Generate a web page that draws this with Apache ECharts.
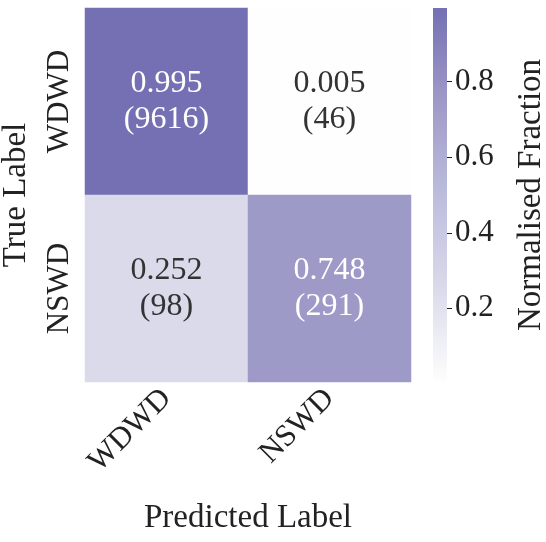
<!DOCTYPE html>
<html><head><meta charset="utf-8">
<script src="https://cdn.jsdelivr.net/npm/echarts@6/dist/echarts.min.js"></script>
<style>html,body{margin:0;background:#fff}#c{width:546px;height:542px}</style>
</head><body><div id="c"></div>
<script>
const predLabels = ['WDWD', 'NSWD']
const trueLabels = ['NSWD', 'WDWD'] // bottom to top
// [predIdx, trueIdx, fraction, count]
const cells = [
  [0, 1, 0.995, 9616],
  [1, 1, 0.005, 46],
  [0, 0, 0.252, 98],
  [1, 0, 0.748, 291]
]
const cbTicks = [0.2, 0.4, 0.6, 0.8]
const vMin = 0.005, vMax = 0.995
const palette = ['#fefefe', '#dadaeb', '#bcbddc', '#9e9ac8', '#7570b3']
const font = 'Liberation Serif'

const chart = echarts.init(document.getElementById('c'))
chart.setOption({
  animation: false,
  textStyle: {fontFamily: font},
  grid: [
    {left: 85, top: 8, width: 326, height: 374, outerBoundsMode: 'none'},
    {left: 433, top: 8, width: 14, height: 374, outerBoundsMode: 'none'}
  ],
  xAxis: [
    {type: 'category', data: predLabels, gridIndex: 0,
      axisLine: {show: false}, splitLine: {show: false},
      axisTick: {alignWithLabel: true, length: 5, lineStyle: {color: '#222'}},
      axisLabel: {rotate: 45, fontSize: 31, color: '#222', fontFamily: font, margin: 12},
      name: 'Predicted Label', nameLocation: 'middle', nameGap: 120,
      nameTextStyle: {fontSize: 33, color: '#222', fontFamily: font}},
    {type: 'category', data: [''], gridIndex: 1, show: false}
  ],
  yAxis: [
    {type: 'category', data: trueLabels, gridIndex: 0,
      axisLine: {show: false}, splitLine: {show: false},
      axisTick: {alignWithLabel: true, length: 5, lineStyle: {color: '#222'}},
      axisLabel: {rotate: 90, fontSize: 31, color: '#222', fontFamily: font, margin: 10},
      name: 'True Label', nameLocation: 'middle', nameGap: 52,
      nameTextStyle: {fontSize: 33, color: '#222', fontFamily: font}},
    {type: 'value', gridIndex: 1, min: vMin, max: vMax, position: 'right',
      axisLine: {show: false}, splitLine: {show: false},
      axisTick: {show: true, customValues: cbTicks, length: 5, lineStyle: {color: '#222'}},
      axisLabel: {customValues: cbTicks, fontSize: 31, color: '#222', fontFamily: font, margin: 8},
      name: 'Normalised Fraction', nameLocation: 'middle', nameGap: 68, nameRotate: 90,
      nameTextStyle: {fontSize: 33, color: '#222', fontFamily: font}}
  ],
  visualMap: {show: false, min: vMin, max: vMax, dimension: 2, seriesIndex: 0,
    inRange: {color: palette}},
  series: [
    {type: 'heatmap', xAxisIndex: 0, yAxisIndex: 0,
      data: cells.map(c => ({value: c, label: {color: c[2] > 0.6 ? '#fff' : '#333'}})),
      label: {show: true, fontSize: 32, fontFamily: font, lineHeight: 36,
        formatter: p => p.value[2].toFixed(3) + '\n(' + p.value[3] + ')'},
      itemStyle: {borderWidth: 0}},
    {type: 'bar', xAxisIndex: 1, yAxisIndex: 1, data: [vMax], barWidth: '100%',
      itemStyle: {color: new echarts.graphic.LinearGradient(0, 0, 0, 1,
        palette.slice().reverse().map((c, i) => ({offset: i / (palette.length - 1), color: c})))}}
  ]
})
</script></body></html>
